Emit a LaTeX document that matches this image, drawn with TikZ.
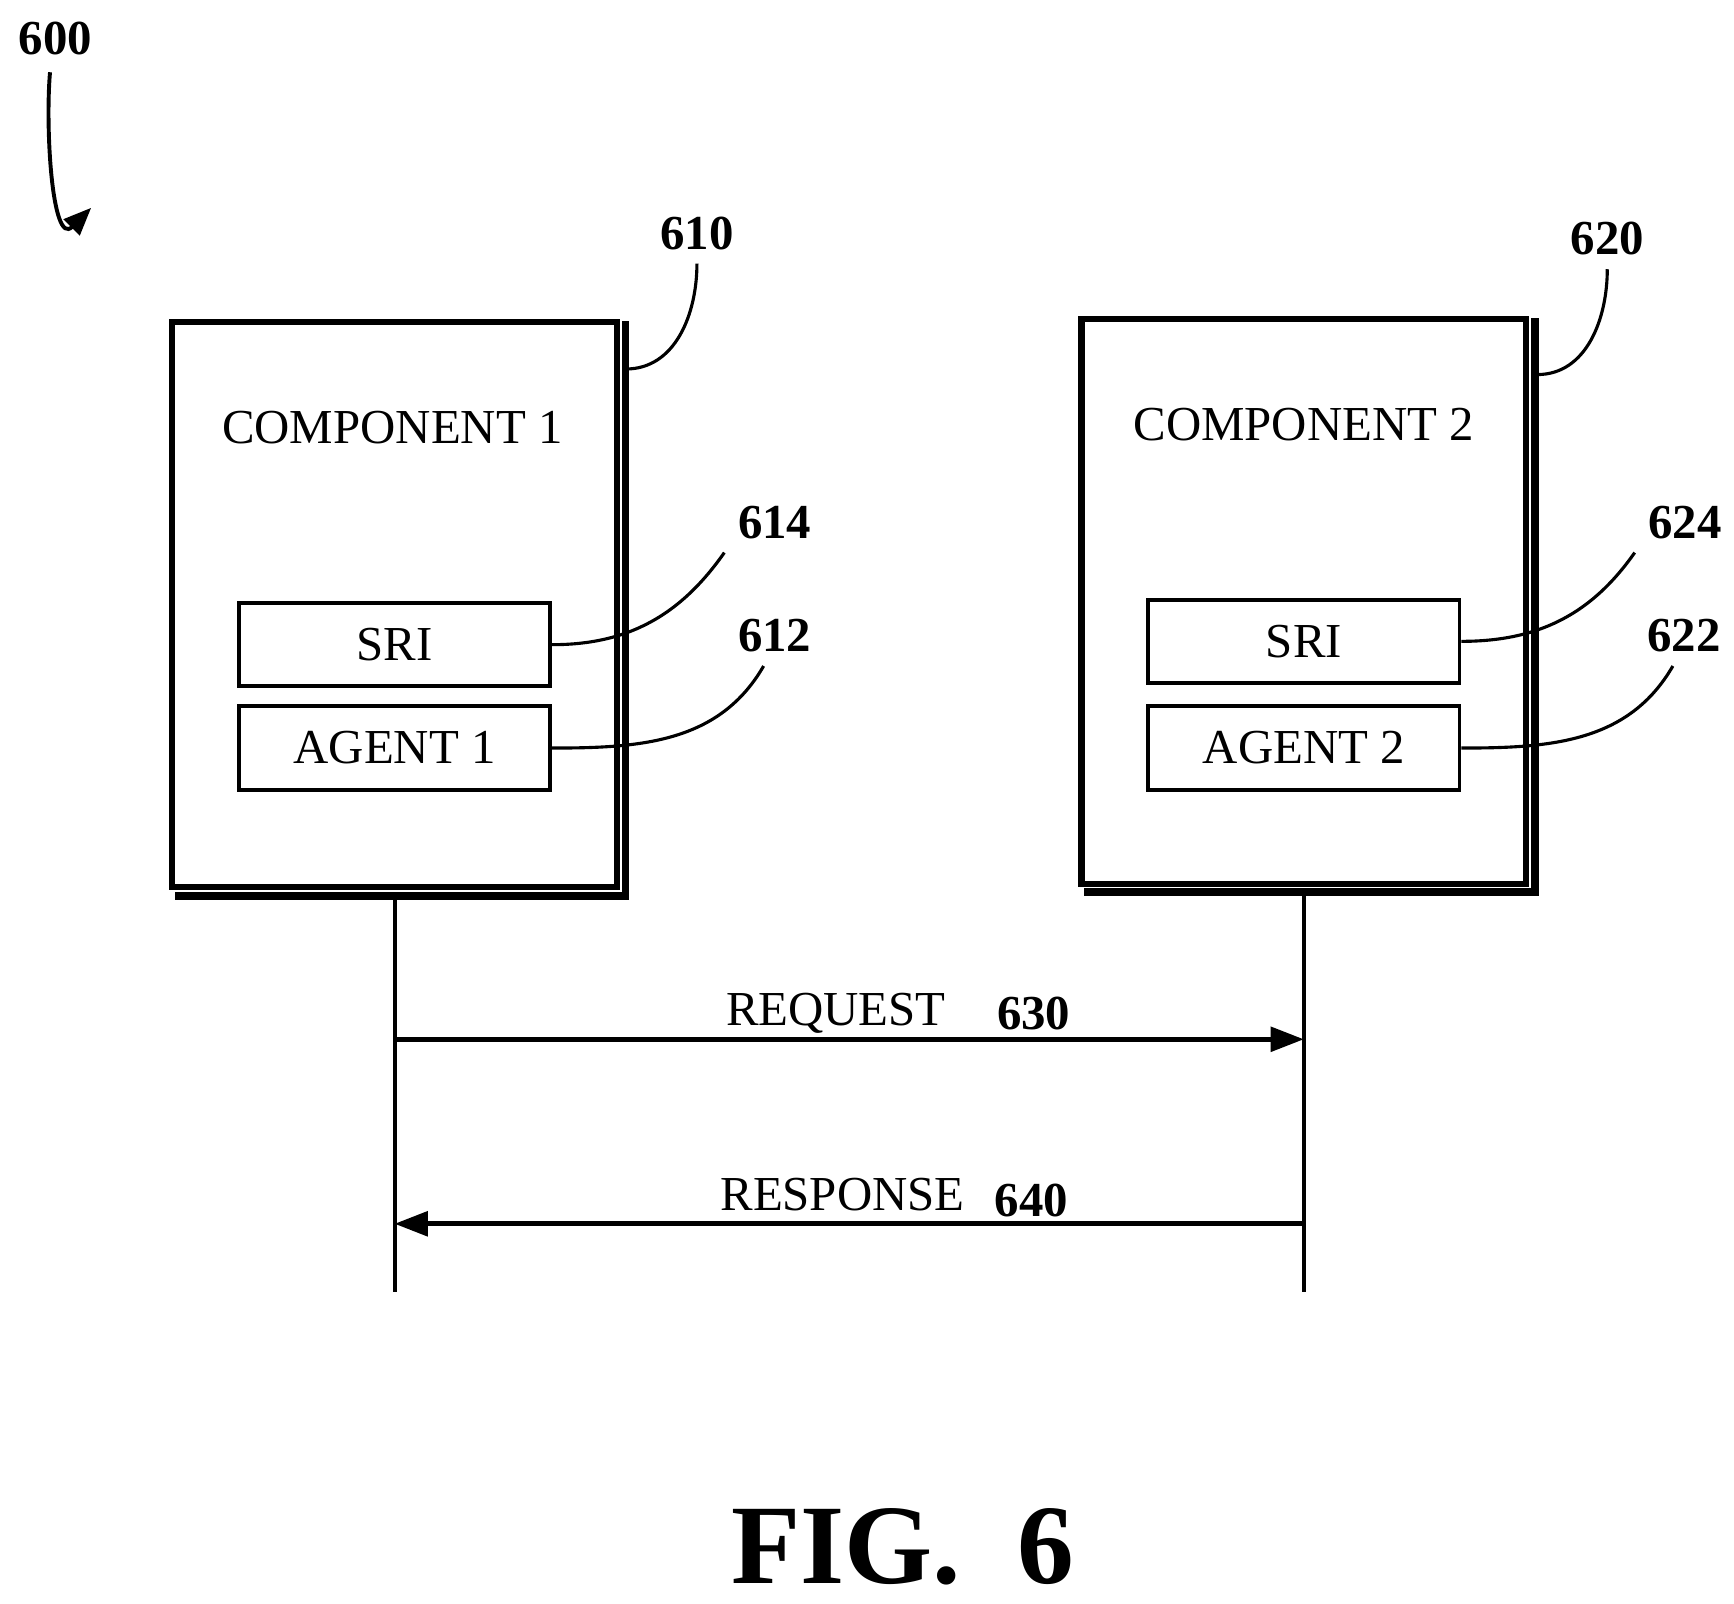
\documentclass[tikz,border=0pt]{standalone}
\usepackage{fontspec}
\setmainfont{Liberation Serif}
\usetikzlibrary{arrows.meta,positioning}
\begin{document}
\begin{tikzpicture}[x=0.1mm,y=-0.1mm,
    comp/.style={draw,line width=1.6pt,minimum width=40mm,minimum height=50.8mm},
    shade/.style={line width=2pt},
    part/.style={draw,line width=1pt,minimum width=28mm,minimum height=7.5mm,font=\fontsize{12.5}{15}\selectfont},
    num/.style={font=\bfseries\fontsize{12.5}{15}\selectfont},
    txt/.style={font=\fontsize{12.5}{15}\selectfont},
    lead/.style={line width=0.8pt},
    msg/.style={line width=1.2pt,-{Triangle[length=3mm,width=2.2mm]}}]
  \useasboundingbox (0,0) rectangle (1560,1443);
  % figure reference
  \node[num] (fig) at (50,35) {600};
  \coordinate (figend) at (82,187);
  \draw[line width=1pt,-{Triangle[length=2.5mm,width=2mm]}] (45,65) to[out=-95,in=-135] (figend);
  % components
  \node[comp] (c1) at (355,544) {};
  \node[comp] (c2) at (1173,541) {};
  \draw[shade] ([xshift=0.5mm,yshift=-0.2mm]c1.north east) -- ([xshift=0.5mm,yshift=-0.5mm]c1.south east) -- ([xshift=0.5mm,yshift=-0.5mm]c1.south west);
  \draw[shade] ([xshift=0.5mm,yshift=-0.2mm]c2.north east) -- ([xshift=0.5mm,yshift=-0.5mm]c2.south east) -- ([xshift=0.5mm,yshift=-0.5mm]c2.south west);
  \node[txt] (c1t) at (353,385) {COMPONENT 1};
  \node[txt] (c2t) at (1173,382) {COMPONENT 2};
  \node[part] (sri1) at (355,580) {SRI};
  \node[part] (ag1) at (355,673) {AGENT 1};
  \node[part] (sri2) at (1173,577) {SRI};
  \node[part] (ag2) at (1173,673) {AGENT 2};
  % reference numerals
  \node[num] (n610) at (627,210) {610};
  \node[num] (n614) at (697,470) {614};
  \node[num] (n612) at (697,572) {612};
  \node[num] (n620) at (1446,215) {620};
  \node[num] (n624) at (1516,470) {624};
  \node[num] (n622) at (1515,572) {622};
  \draw[lead] (563,332) to[out=0,in=-90] (n610.south);
  \draw[lead] (sri1.east) to[out=0,in=-125] (n614.south west);
  \draw[lead] (ag1.east) to[out=0,in=-120] ([xshift=-1mm]n612.south);
  \draw[lead] (1383,337) to[out=0,in=-90] (n620.south);
  \draw[lead] (sri2.east) to[out=0,in=-125] (n624.south west);
  \draw[lead] (ag2.east) to[out=0,in=-120] ([xshift=-1mm]n622.south);
  % lifelines
  \coordinate (l1) at (355,1162);
  \coordinate (l2) at (1173,1162);
  \draw[line width=1pt] ([yshift=-0.5mm]c1.south) -- (l1);
  \draw[line width=1pt] ([yshift=-0.5mm]c2.south) -- (l2);
  \coordinate (rq1) at (355,935);
  \coordinate (rq2) at (1173,935);
  \coordinate (rs1) at (355,1101);
  \coordinate (rs2) at (1173,1101);
  \draw[msg] (rq1) -- (rq2);
  \draw[msg] (rs2) -- (rs1);
  \node[txt] (rqt) at (752,912) {REQUEST};
  \node[num] (n630) at (930,912) {630};
  \node[txt] (rst) at (758,1075) {RESPONSE};
  \node[num] (n640) at (928,1080) {640};
  \node[font=\bfseries\fontsize{29}{32}\selectfont] (cap) at (812,1392) {FIG.\ \ 6};
\end{tikzpicture}
\end{document}
